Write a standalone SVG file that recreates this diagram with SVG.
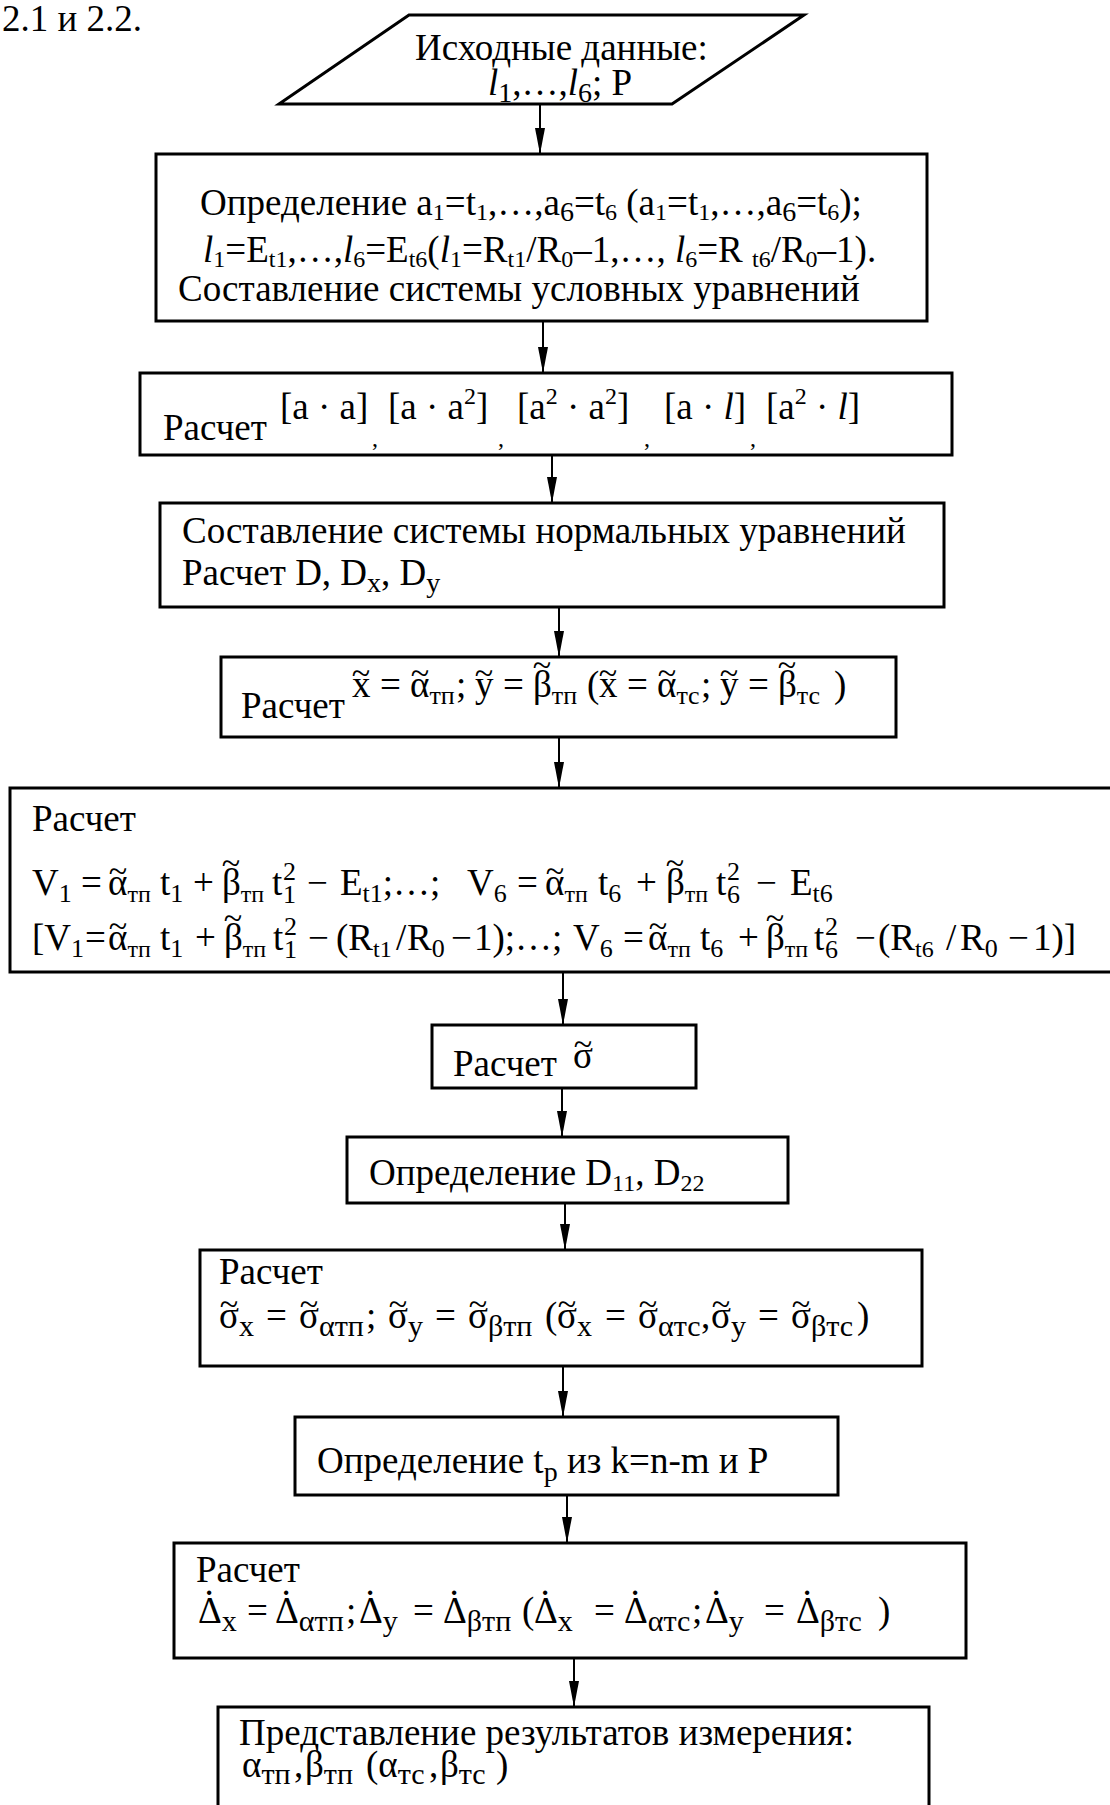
<svg xmlns="http://www.w3.org/2000/svg" width="1110" height="1805" viewBox="0 0 1110 1805">
<defs>
<style>
text{font-family:"Liberation Serif","Times New Roman",serif;fill:#000}
.m{font-size:37px}
.s{font-size:28px}
.ss{font-size:24px}
.u{font-size:26px}
.w{font-size:30px}
.i{font-style:italic}
.tl{font-size:34px;text-anchor:middle}
.dt{font-size:37px;text-anchor:middle}
.box{fill:#fff;stroke:#000;stroke-width:3}
.c line{stroke:#000;stroke-width:2;marker-end:url(#ah)}
</style>
<marker id="ah" markerUnits="userSpaceOnUse" markerWidth="26" markerHeight="12" refX="26" refY="6" orient="auto"><path d="M0,1 L26,6 L0,11 z" fill="#000"/></marker>
</defs>
<rect width="1110" height="1805" fill="#fff"/>
<text class="m" x="2" y="31">2.1 и 2.2.</text>

<g class="c" id="connectors">
<line x1="540" y1="104" x2="540" y2="154"/>
<line x1="543" y1="321" x2="543" y2="373"/>
<line x1="552" y1="455" x2="552" y2="503"/>
<line x1="559" y1="607" x2="559" y2="657"/>
<line x1="559" y1="737" x2="559" y2="788"/>
<line x1="563" y1="972" x2="563" y2="1025"/>
<line x1="562" y1="1088" x2="562" y2="1137"/>
<line x1="565" y1="1203" x2="565" y2="1250"/>
<line x1="563" y1="1366" x2="563" y2="1417"/>
<line x1="567" y1="1495" x2="567" y2="1543"/>
<line x1="574" y1="1658" x2="574" y2="1707"/>
</g>

<g id="n1">
<polygon class="box" points="409,15 804,15 672,104 279,104"/>
<text class="m" x="415" y="60">Исходные данные:</text>
<text class="m"><tspan x="488" y="95" class="i">l</tspan><tspan class="s" y="102">1</tspan><tspan y="95">,…,</tspan><tspan class="i" y="95">l</tspan><tspan class="s" y="102">6</tspan><tspan y="95">; P</tspan></text>
</g>

<g id="n2">
<rect class="box" x="156" y="154" width="771" height="167"/>
<text class="m"><tspan x="200" y="215">Определение a</tspan><tspan class="ss" y="220">1</tspan><tspan y="215">=t</tspan><tspan class="ss" y="220">1</tspan><tspan y="215">,…,a</tspan><tspan class="s" y="221">6</tspan><tspan y="215">=t</tspan><tspan class="ss" y="220">6</tspan><tspan y="215"> (a</tspan><tspan class="ss" y="220">1</tspan><tspan y="215">=t</tspan><tspan class="ss" y="220">1</tspan><tspan y="215">,…,a</tspan><tspan class="s" y="221">6</tspan><tspan y="215">=t</tspan><tspan class="ss" y="220">6</tspan><tspan y="215">);</tspan></text>
<text class="m"><tspan x="203" y="262" class="i">l</tspan><tspan class="ss" y="267">1</tspan><tspan y="262">=E</tspan><tspan class="ss" y="267">t1</tspan><tspan y="262">,…,</tspan><tspan class="i" y="262">l</tspan><tspan class="ss" y="267">6</tspan><tspan y="262">=E</tspan><tspan class="ss" y="267">t6</tspan><tspan y="262">(</tspan><tspan class="i" y="262">l</tspan><tspan class="ss" y="267">1</tspan><tspan y="262">=R</tspan><tspan class="ss" y="267">t1</tspan><tspan y="262">/R</tspan><tspan class="ss" y="267">0</tspan><tspan y="262">–1,…, </tspan><tspan class="i" y="262">l</tspan><tspan class="ss" y="267">6</tspan><tspan y="262">=R </tspan><tspan class="ss" y="267">t6</tspan><tspan y="262">/R</tspan><tspan class="ss" y="267">0</tspan><tspan y="262">–1).</tspan></text>
<text class="m" x="178" y="301">Составление системы условных уравнений</text>
</g>

<g id="n3">
<rect class="box" x="140" y="373" width="812" height="82"/>
<text class="m" x="163" y="440">Расчет</text>
<text class="m"><tspan x="280" y="419">[a · a]</tspan><tspan x="388" y="419">[a · a</tspan><tspan class="ss" y="404">2</tspan><tspan y="419">]</tspan><tspan x="517" y="419">[a</tspan><tspan class="ss" y="404">2</tspan><tspan y="419"> · a</tspan><tspan class="ss" y="404">2</tspan><tspan y="419">]</tspan><tspan x="664" y="419">[a · </tspan><tspan class="i" y="419">l</tspan><tspan y="419">]</tspan><tspan x="766" y="419">[a</tspan><tspan class="ss" y="404">2</tspan><tspan y="419"> · </tspan><tspan class="i" y="419">l</tspan><tspan y="419">]</tspan></text>
<text class="ss"><tspan x="372" y="446">,</tspan><tspan x="498" y="446">,</tspan><tspan x="644" y="446">,</tspan><tspan x="750" y="446">,</tspan></text>
</g>

<g id="n4">
<rect class="box" x="160" y="503" width="784" height="104"/>
<text class="m" x="182" y="543">Составление системы нормальных уравнений</text>
<text class="m"><tspan x="182" y="585">Расчет D, D</tspan><tspan class="s" y="592">x</tspan><tspan y="585">, D</tspan><tspan class="s" y="592">y</tspan></text>
</g>

<g id="n5">
<rect class="box" x="221" y="657" width="675" height="80"/>
<text class="m" x="241" y="718">Расчет</text>
<text class="m"><tspan x="352" y="697">x</tspan><tspan x="380" y="697">=</tspan><tspan x="410" y="697">α</tspan><tspan class="u" y="704">тп</tspan><tspan x="456" y="697">;</tspan><tspan x="475" y="697">y</tspan><tspan x="503" y="697">=</tspan><tspan x="533" y="697">β</tspan><tspan class="u" y="704">тп</tspan><tspan x="587" y="697">(</tspan><tspan x="599" y="697">x</tspan><tspan x="627" y="697">=</tspan><tspan x="657" y="697">α</tspan><tspan class="u" y="704">тс</tspan><tspan x="701" y="697">;</tspan><tspan x="720" y="697">y</tspan><tspan x="748" y="697">=</tspan><tspan x="778" y="697">β</tspan><tspan class="u" y="704">тс</tspan><tspan x="834" y="697">)</tspan></text>
<text class="tl"><tspan x="361" y="684">~</tspan><tspan x="420" y="684">~</tspan><tspan x="484" y="684">~</tspan><tspan x="542" y="676">~</tspan><tspan x="608" y="684">~</tspan><tspan x="667" y="684">~</tspan><tspan x="729" y="684">~</tspan><tspan x="787" y="676">~</tspan></text>
</g>

<g id="n6">
<rect class="box" x="10" y="788" width="1120" height="184"/>
<text class="m" x="32" y="831">Расчет</text>
<text class="m"><tspan x="32" y="895">V</tspan><tspan class="u" y="902">1</tspan><tspan x="81" y="895">=</tspan><tspan x="108" y="895">α</tspan><tspan class="ss" y="902">тп</tspan><tspan x="160" y="895">t</tspan><tspan class="u" y="902">1</tspan><tspan x="193" y="895">+</tspan><tspan x="222" y="895">β</tspan><tspan class="ss" y="902">тп</tspan><tspan x="272" y="895">t</tspan><tspan class="u" x="283" y="880">2</tspan><tspan class="u" x="283" y="903">1</tspan><tspan x="307" y="895">−</tspan><tspan x="340" y="895">E</tspan><tspan class="u" y="902">t1</tspan><tspan y="895">;…;</tspan><tspan x="467" y="895">V</tspan><tspan class="u" y="902">6</tspan><tspan x="517" y="895">=</tspan><tspan x="545" y="895">α</tspan><tspan class="ss" y="902">тп</tspan><tspan x="598" y="895">t</tspan><tspan class="u" y="902">6</tspan><tspan x="636" y="895">+</tspan><tspan x="666" y="895">β</tspan><tspan class="ss" y="902">тп</tspan><tspan x="716" y="895">t</tspan><tspan class="u" x="727" y="880">2</tspan><tspan class="u" x="727" y="903">6</tspan><tspan x="756" y="895">−</tspan><tspan x="790" y="895">E</tspan><tspan class="u" y="902">t6</tspan></text>
<text class="m"><tspan x="32" y="950">[V</tspan><tspan class="u" y="957">1</tspan><tspan x="85" y="950">=</tspan><tspan x="108" y="950">α</tspan><tspan class="ss" y="957">тп</tspan><tspan x="160" y="950">t</tspan><tspan class="u" y="957">1</tspan><tspan x="195" y="950">+</tspan><tspan x="224" y="950">β</tspan><tspan class="ss" y="957">тп</tspan><tspan x="273" y="950">t</tspan><tspan class="u" x="284" y="935">2</tspan><tspan class="u" x="284" y="958">1</tspan><tspan x="308" y="950">−</tspan><tspan x="336" y="950">(R</tspan><tspan class="ss" y="957">t1</tspan><tspan x="396" y="950">/</tspan><tspan x="407" y="950">R</tspan><tspan class="u" y="957">0</tspan><tspan x="451" y="950">−</tspan><tspan x="474" y="950">1);…;</tspan><tspan x="573" y="950">V</tspan><tspan class="u" y="957">6</tspan><tspan x="623" y="950">=</tspan><tspan x="648" y="950">α</tspan><tspan class="ss" y="957">тп</tspan><tspan x="700" y="950">t</tspan><tspan class="u" y="957">6</tspan><tspan x="738" y="950">+</tspan><tspan x="766" y="950">β</tspan><tspan class="ss" y="957">тп</tspan><tspan x="814" y="950">t</tspan><tspan class="u" x="825" y="935">2</tspan><tspan class="u" x="825" y="958">6</tspan><tspan x="855" y="950">−</tspan><tspan x="878" y="950">(R</tspan><tspan class="ss" y="957">t6</tspan><tspan x="946" y="950">/</tspan><tspan x="960" y="950">R</tspan><tspan class="u" y="957">0</tspan><tspan x="1008" y="950">−</tspan><tspan x="1033" y="950">1)]</tspan></text>
<text class="tl"><tspan x="118" y="882">~</tspan><tspan x="231" y="874">~</tspan><tspan x="555" y="882">~</tspan><tspan x="675" y="874">~</tspan><tspan x="118" y="937">~</tspan><tspan x="233" y="929">~</tspan><tspan x="658" y="937">~</tspan><tspan x="775" y="929">~</tspan></text>
</g>

<g id="n7">
<rect class="box" x="432" y="1025" width="264" height="63"/>
<text class="m" x="453" y="1076">Расчет</text>
<text class="m" x="573" y="1068">σ</text>
<text class="tl" x="583" y="1055">~</text>
</g>

<g id="n8">
<rect class="box" x="347" y="1137" width="441" height="66"/>
<text class="m"><tspan x="369" y="1185">Определение D</tspan><tspan class="ss" y="1191">11</tspan><tspan y="1185">, D</tspan><tspan class="ss" y="1191">22</tspan></text>
</g>

<g id="n9">
<rect class="box" x="200" y="1250" width="722" height="116"/>
<text class="m" x="219" y="1284">Расчет</text>
<text class="m"><tspan x="219" y="1328">σ</tspan><tspan class="w" y="1336">x</tspan><tspan x="266" y="1328">=</tspan><tspan x="299" y="1328">σ</tspan><tspan class="w" y="1336">αтп</tspan><tspan x="366" y="1328">;</tspan><tspan x="388" y="1328">σ</tspan><tspan class="w" y="1336">y</tspan><tspan x="435" y="1328">=</tspan><tspan x="468" y="1328">σ</tspan><tspan class="w" y="1336">βтп</tspan><tspan x="545" y="1328">(</tspan><tspan x="557" y="1328">σ</tspan><tspan class="w" y="1336">x</tspan><tspan x="605" y="1328">=</tspan><tspan x="638" y="1328">σ</tspan><tspan class="w" y="1336">αтс</tspan><tspan x="701" y="1328">,</tspan><tspan x="711" y="1328">σ</tspan><tspan class="w" y="1336">y</tspan><tspan x="758" y="1328">=</tspan><tspan x="791" y="1328">σ</tspan><tspan class="w" y="1336">βтс</tspan><tspan x="857" y="1328">)</tspan></text>
<text class="tl"><tspan x="229" y="1315">~</tspan><tspan x="309" y="1315">~</tspan><tspan x="398" y="1315">~</tspan><tspan x="478" y="1315">~</tspan><tspan x="567" y="1315">~</tspan><tspan x="648" y="1315">~</tspan><tspan x="721" y="1315">~</tspan><tspan x="801" y="1315">~</tspan></text>
</g>

<g id="n10">
<rect class="box" x="295" y="1417" width="543" height="78"/>
<text class="m"><tspan x="317" y="1473">Определение t</tspan><tspan class="s" y="1481">p</tspan><tspan y="1473"> из k=n-m и P</tspan></text>
</g>

<g id="n11">
<rect class="box" x="174" y="1543" width="792" height="115"/>
<text class="m" x="196" y="1582">Расчет</text>
<text class="m"><tspan x="198" y="1623">Δ</tspan><tspan class="w" y="1631">x</tspan><tspan x="247" y="1623">=</tspan><tspan x="275" y="1623">Δ</tspan><tspan class="w" y="1631">αтп</tspan><tspan x="346" y="1623">;</tspan><tspan x="359" y="1623">Δ</tspan><tspan class="w" y="1631">y</tspan><tspan x="413" y="1623">=</tspan><tspan x="443" y="1623">Δ</tspan><tspan class="w" y="1631">βтп</tspan><tspan x="522" y="1623">(</tspan><tspan x="534" y="1623">Δ</tspan><tspan class="w" y="1631">x</tspan><tspan x="594" y="1623">=</tspan><tspan x="624" y="1623">Δ</tspan><tspan class="w" y="1631">αтс</tspan><tspan x="692" y="1623">;</tspan><tspan x="705" y="1623">Δ</tspan><tspan class="w" y="1631">y</tspan><tspan x="764" y="1623">=</tspan><tspan x="796" y="1623">Δ</tspan><tspan class="w" y="1631">βтс</tspan><tspan x="878" y="1623">)</tspan></text>
<text class="dt"><tspan x="209" y="1595">.</tspan><tspan x="286" y="1595">.</tspan><tspan x="370" y="1595">.</tspan><tspan x="454" y="1595">.</tspan><tspan x="545" y="1595">.</tspan><tspan x="635" y="1595">.</tspan><tspan x="716" y="1595">.</tspan><tspan x="807" y="1595">.</tspan></text>
</g>

<g id="n12">
<rect class="box" x="218" y="1707" width="711" height="110"/>
<text class="m" x="239" y="1745">Представление результатов измерения:</text>
<text class="m"><tspan x="242" y="1777">α</tspan><tspan class="w" y="1784">тп</tspan><tspan x="294" y="1777">,</tspan><tspan x="305" y="1777">β</tspan><tspan class="w" y="1784">тп</tspan><tspan x="366" y="1777">(α</tspan><tspan class="w" y="1784">тс</tspan><tspan x="429" y="1777">,</tspan><tspan x="440" y="1777">β</tspan><tspan class="w" y="1784">тс</tspan><tspan x="496" y="1777">)</tspan></text>
</g>
</svg>
